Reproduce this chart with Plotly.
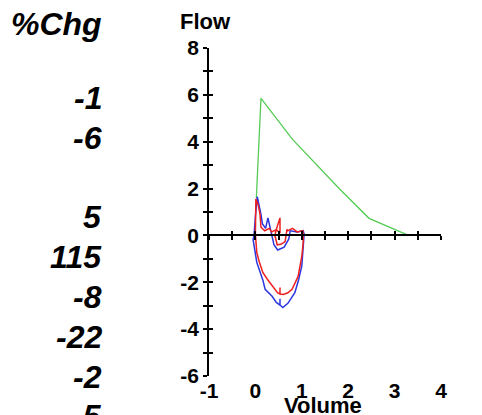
import plotly.graph_objects as go

# ---- data ----
green_vol = [0.02, 0.12, 0.80, 1.82, 2.45, 3.30]
green_flow = [1.60, 5.85, 4.10, 1.97, 0.73, 0.00]

blue_vol = [-0.03, -0.05, 0.03, 0.16, 0.21, 0.36, 0.45, 0.53, 0.53, 0.53, 0.59, 0.70, 0.85, 0.93, 1.00, 1.03, 1.05,
            1.03, 0.90, 0.75, 0.72, 0.62, 0.48, 0.40, 0.35, 0.30, 0.27, 0.22, 0.15, 0.12, 0.07, 0.04, 0.00, -0.03]
blue_flow = [0.00, -0.17, -1.15, -1.90, -2.30, -2.60, -2.86, -2.97, -2.70, -2.97, -3.08, -2.90, -2.44, -1.90, -1.30, -0.60, 0.05,
             0.20, 0.15, 0.20, -0.15, -0.50, -0.62, -0.40, 0.00, 0.40, 0.75, 0.30, 0.50, 0.90, 1.40, 1.65, 0.80, 0.00]

red_vol = [0.00, 0.03, 0.08, 0.16, 0.25, 0.38, 0.48, 0.53, 0.53, 0.53, 0.60, 0.70, 0.79, 0.92, 1.00, 1.03, 1.03,
           1.02, 0.90, 0.80, 0.70, 0.68, 0.64, 0.55, 0.47, 0.42, 0.45, 0.53, 0.53, 0.45, 0.35, 0.30, 0.20, 0.12, 0.10, 0.06, 0.01, 0.00, 0.00]
red_flow = [0.05, -0.73, -1.10, -1.58, -1.85, -2.18, -2.45, -2.50, -2.22, -2.50, -2.52, -2.45, -2.30, -1.75, -0.90, -0.30, 0.05,
            0.20, 0.15, 0.30, 0.20, 0.26, -0.26, -0.38, -0.40, 0.00, 0.25, 0.75, 0.10, 0.25, 0.15, 0.30, 0.20, 0.35, 0.90, 1.30, 1.55, 0.80, 0.05]

x_range = [-1, 4]
y_range = [-6, 8]
x_tickvals = [-1, 0, 1, 2, 3, 4]
x_ticktext = ["-1", "0", "1", "2", "3", "4"]
y_tickvals = [-6, -4, -2, 0, 2, 4, 6, 8]
y_ticktext = ["-6", "-4", "-2", "0", "2", "4", "6", "8"]

chg_header = "%Chg"
chg_labels = ["-1", "-6", "", "5", "115", "-8", "-22", "-2", "-5"]

# ---- layout geometry (pixels in the 482x415 window) ----
W, H = 482, 415
OFF = 8  # default page body margin
PL, PR, PT, PB = 209, 441, 48, 376  # plot area edges in window pixels
PW, PH = PR - PL, PB - PT

def px_x(px):
    return (px - PL) / PW

def px_y(py):
    return (PB - py) / PH

fig = go.Figure()
fig.add_trace(go.Scatter(x=green_vol, y=green_flow, mode="lines",
                         line=dict(color="#55cc55", width=1.3), hoverinfo="skip", showlegend=False))
fig.add_trace(go.Scatter(x=blue_vol, y=blue_flow, mode="lines",
                         line=dict(color="#2a35e0", width=1.5), hoverinfo="skip", showlegend=False))
fig.add_trace(go.Scatter(x=red_vol, y=red_flow, mode="lines",
                         line=dict(color="#ee2020", width=1.5), hoverinfo="skip", showlegend=False))
# empty traces so the overlay axes are drawn
fig.add_trace(go.Scatter(x=[], y=[], xaxis="x2", yaxis="y", showlegend=False, hoverinfo="skip"))
fig.add_trace(go.Scatter(x=[], y=[], xaxis="x3", yaxis="y2", showlegend=False, hoverinfo="skip"))

tickfont = dict(family="Liberation Sans, Arial, sans-serif", size=21, color="black", weight="bold")
zero_pos = (0 - y_range[0]) / (y_range[1] - y_range[0])

fig.update_layout(
    width=W - OFF, height=H - OFF,
    margin=dict(l=PL - OFF, r=W - PR, t=PT - OFF, b=H - PB, pad=0),
    paper_bgcolor="white", plot_bgcolor="white",
    xaxis=dict(range=x_range, tickmode="array", tickvals=x_tickvals, ticktext=x_ticktext,
               showline=False, ticks="", showgrid=False, zeroline=False,
               tickfont=tickfont, ticklabelstandoff=0, fixedrange=True),
    xaxis2=dict(range=x_range, overlaying="x", anchor="free", position=zero_pos, showline=True,
                linecolor="black", linewidth=1.5, ticks="outside", ticklen=4, tickwidth=1.5, tickcolor="black",
                dtick=0.5, tick0=-1, showticklabels=False, showgrid=False, zeroline=False),
    xaxis3=dict(range=x_range, overlaying="x", anchor="free", position=zero_pos, showline=False,
                ticks="inside", ticklen=4, tickwidth=1.5, tickcolor="black",
                dtick=0.5, tick0=-1, showticklabels=False, showgrid=False, zeroline=False),
    yaxis=dict(range=y_range, tickmode="array", tickvals=y_tickvals, ticktext=y_ticktext,
               showline=True, linecolor="black", linewidth=1.5,
               ticks="outside", ticklen=4, tickwidth=1.5, tickcolor="black",
               minor=dict(dtick=1, tick0=0, ticks="outside", ticklen=4, tickwidth=1.5, tickcolor="black", showgrid=False),
               showgrid=False, zeroline=False, tickfont=tickfont, ticklabelstandoff=0),
    yaxis2=dict(range=y_range, overlaying="y", anchor="x", dtick=1, tick0=0, showline=False,
                ticks="inside", ticklen=4, tickwidth=1.5, tickcolor="black",
                showticklabels=False, showgrid=False, zeroline=False),
)

title_font = dict(family="Liberation Sans, Arial, sans-serif", size=22, color="black")
fig.add_annotation(text="<b>Flow</b>", x=px_x(205), y=px_y(22), xref="paper", yref="paper",
                   showarrow=False, xanchor="center", yanchor="middle", font=title_font)
fig.add_annotation(text="<b>Volume</b>", x=px_x(323), y=px_y(405), xref="paper", yref="paper",
                   showarrow=False, xanchor="center", yanchor="middle", font=title_font)

chg_font = dict(family="Liberation Sans, Arial, sans-serif", size=32, color="black")
fig.add_annotation(text="<b><i>" + chg_header + "</i></b>", x=px_x(104), y=px_y(24), xref="paper", yref="paper",
                   showarrow=False, xanchor="right", yanchor="middle", font=chg_font)
row0, step = 98, 39.8
for i, lab in enumerate(chg_labels):
    if not lab:
        continue
    fig.add_annotation(text="<b><i>" + lab + "</i></b>", x=px_x(104), y=px_y(row0 + i * step),
                       xref="paper", yref="paper", showarrow=False, xanchor="right", yanchor="middle",
                       font=chg_font)

fig.write_html("out.html")
